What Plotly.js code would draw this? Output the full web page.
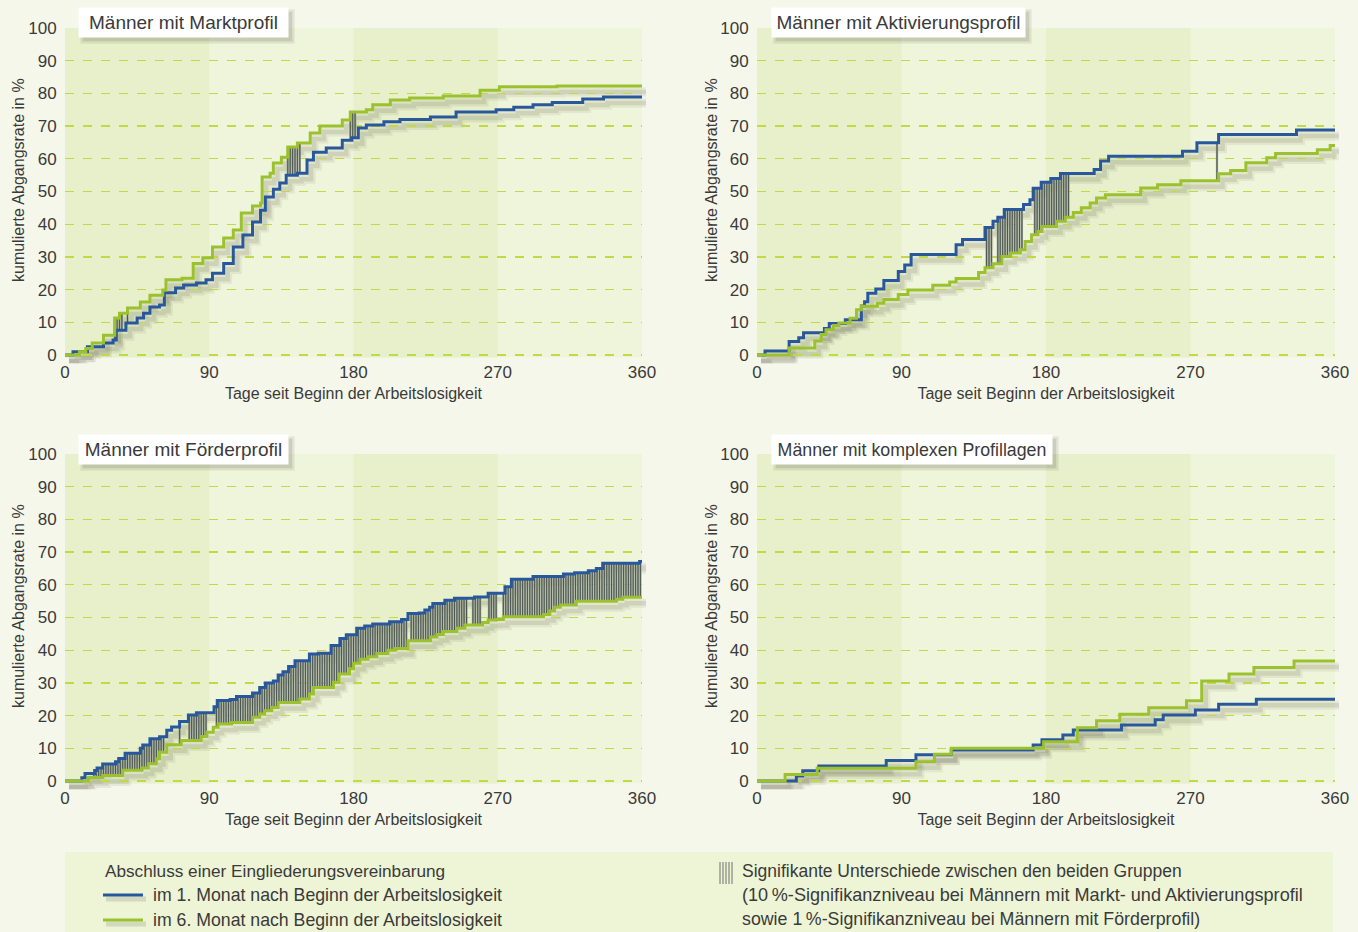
<!DOCTYPE html>
<html>
<head>
<meta charset="utf-8">
<script src="https://cdn.plot.ly/plotly-3.0.1.min.js"></script>
<style>
  html, body { margin: 0; padding: 0; background: #f5f7ea; }
  #chart { width: 1358px; height: 932px; }
</style>
</head>
<body>
<div id="chart"></div>
<script>
// ---------- DATA (day, cumulative rate in %) : step points ----------
const xTicks = [0, 90, 180, 270, 360];
const yTicks = [0, 10, 20, 30, 40, 50, 60, 70, 80, 90, 100];

const panelTitles = ['Männer mit Marktprofil', 'Männer mit Aktivierungsprofil',
                     'Männer mit Förderprofil', 'Männer mit komplexen Profillagen'];

// Marktprofil
const marktBlue = [[0,0],[5,1],[14,2.5],[24,3.7],[30,4.6],[32,7.6],[38,9.8],[45,11.3],[49,12.8],[53,14.7],[59,15.3],[62,19],[69,20.5],[74,21.4],[82,22],[88,23],[92,25],[99,28],[105,33],[111,36.7],[117,40.7],[122,44.3],[125,48.3],[130,50.7],[134,52.6],[138,55],[145,55.6],[151,59.6],[155,62],[163,63.3],[173,65.7],[179,66.4],[183,69.4],[188,70.3],[199,71.3],[209,72],[228,72.8],[244,74.3],[269,75],[280,75.8],[292,76.5],[304,77.2],[323,78.3],[336,78.9],[360,78.9]];
const marktGreen = [[0,0],[9,1],[13,2],[17,3.7],[24,6],[31,11.3],[34,12.8],[39,14.4],[47,16.2],[53,18.3],[61,19.9],[63,23],[73,23.5],[80,28],[86,29.7],[92,33],[99,35.8],[105,38.2],[110,43.4],[117,45.6],[122,46.5],[123,54.4],[128,55.6],[130,58.7],[135,60.5],[139,63.6],[145,64.8],[153,67.9],[159,70],[173,71.9],[178,74.3],[188,75],[192,76.5],[203,78],[215,78.6],[236,79.2],[259,81],[271,82],[307,82.3],[360,82.3]];
const marktSig = [[31,36],[39,40],[139,147],[178,181]];

// Aktivierungsprofil
const aktivBlue = [[0,0],[5,1.2],[20,4.1],[26,5.3],[29,6.8],[42,8.1],[45,9.6],[55,10.8],[65,15],[67,16.3],[69,18.9],[74,20.2],[79,22.8],[88,25.5],[92,27.5],[96,30.7],[124,33.7],[128,35.3],[142,39],[147,40.9],[150,42.1],[154,44.5],[166,46],[170,47.5],[172,51],[177,52.8],[183,54],[189,55.5],[210,56.7],[214,59.3],[219,60.8],[265,62.3],[274,64.9],[287.5,67.4],[336,68.8],[360,68.8]];
const aktivGreen = [[0,0],[20,2.1],[36,4.3],[40,6.3],[43,7.7],[47.5,9],[51,9.8],[58,11.2],[62,13.8],[65,14.9],[75,15.8],[79,17],[88,18.5],[94,19.9],[109.5,21.3],[120,22.3],[124,23.4],[138,25.2],[142,26.7],[147,27.9],[152.5,30.1],[158,31.2],[164,32.2],[167,34.7],[171,36.8],[175,37.8],[177.5,39.3],[186.5,40.9],[192,42.1],[197,43.6],[202,45],[207.5,46.5],[211.5,48],[217,49],[239,51.1],[249.5,52.1],[264,53.3],[287.5,55.4],[295,56.4],[304.5,58.8],[317.5,60.3],[323,61.6],[349,62.8],[357,64.1],[360,64.1]];
const aktivSig = [[143,147],[150,166],[173,194],[286.5,286.5]];

// Förderprofil
const foerderBlue = [[0,0],[10.5,1],[12.5,2.3],[18.5,3.2],[20,4],[23.5,5.2],[31.5,5.9],[33.5,6.9],[37.5,8.5],[47,10],[48.5,11],[53,12.9],[59,13.5],[63.5,15.5],[66.5,16.5],[71.5,18.2],[77,20.2],[82,20.9],[93,22.7],[95,24.6],[103,24.9],[107,25.8],[117,26.9],[121.5,28.6],[125,30],[130,30.6],[133,32.4],[136,33.4],[139.5,35],[143.5,36.8],[152.5,38.8],[158,39.1],[166,41.4],[171.5,43.6],[175.5,44.7],[182,46.7],[187,47.4],[192,48],[202.5,48.7],[210,49.4],[214,51.2],[221,51.4],[224.5,52.3],[227.5,53.1],[229.5,54.3],[237,55.3],[243,55.9],[255.5,56.3],[264,57.4],[274.5,59.4],[278.5,61.7],[292,62.5],[311,63.3],[318,63.7],[326.5,64.3],[331.5,65],[335.5,66.6],[358.5,67.1],[360,67.1]];
const foerderGreen = [[0,0],[14.5,1.1],[23.5,1.7],[36,3.3],[48,4],[52,5.3],[57,6.8],[59,8.8],[63.5,11.1],[72.5,12.4],[85,13.6],[88.5,14.9],[92.5,16.4],[95.5,17.4],[104,17.9],[117,19.5],[121.5,20.5],[124.5,21.5],[129,22.5],[133,24],[146.5,25.1],[152.5,26.6],[155,28.6],[167.5,30.2],[171,32.7],[177.5,34.3],[180,36],[184,37.2],[189,38],[194.5,39],[201.5,40],[206,40.5],[214,42.9],[228,44],[232,44.8],[236,45.7],[244.5,46.7],[249.5,47.7],[260.5,48.5],[264,49.2],[269,49.4],[273.5,50.2],[298.5,50.9],[302.5,52],[305.5,53.1],[309,53.8],[319,55],[344,55.6],[348,56.2],[360,56.2]];
const foerderSig = [[18,62.5],[71.5,72],[77.5,88.5],[94.5,213],[216,250.5],[254.5,260],[264.5,269.5],[273.5,359.5]];

// komplexe Profillagen
const komplexBlue = [[0,0],[24.5,1.5],[28.5,3.1],[38.5,4.6],[80.5,6.3],[99,8],[121,9.5],[172,11],[177.5,12.6],[190.5,14.1],[197,15.6],[227,17.1],[248,18.7],[253,20.2],[273,21.7],[287.5,23.5],[311,25],[360,25]];
const komplexGreen = [[0,0],[17.5,2],[37.5,3.9],[99,5.9],[110.5,8.2],[121,10],[178.5,12],[199.5,16.3],[211.5,18.4],[226,20.4],[244,22.4],[267.5,24.5],[277,30.6],[294,32.7],[309.5,34.7],[334.5,36.7],[360,36.7]];
const komplexSig = [];

const legendHeader = 'Abschluss einer Eingliederungsvereinbarung';
const legendBlue = 'im 1. Monat nach Beginn der Arbeitslosigkeit';
const legendGreen = 'im 6. Monat nach Beginn der Arbeitslosigkeit';
const legendSig = ['Signifikante Unterschiede zwischen den beiden Gruppen',
  '(10\u2009%-Signifikanzniveau bei Männern mit Markt- und Aktivierungsprofil',
  'sowie 1\u2009%-Signifikanzniveau bei Männern mit Förderprofil)'];
const xTitle = 'Tage seit Beginn der Arbeitslosigkeit';
const yTitle = 'kumulierte Abgangsrate in %';

// ---------- STYLE ----------
const FONT = 'Liberation Sans, Arial, sans-serif';
const TXT = '#3a3a3a';
const BLUE = '#28589b';
const GREEN = '#9cc12e';
const HATCH_DARK = '#4b554d';
const HATCH_LIGHT = '#9aa295';
const PLOT_BG = '#eff5da';
const BAND = '#e7efcb';
const W = 1358, H = 932;
const px = v => v / W;
const py = v => 1 - v / H;
const SH_DX = 4, SH_DY = 6;   // shadow offset in px

const panels = [
  {blue: marktBlue, green: marktGreen, sig: marktSig},
  {blue: aktivBlue, green: aktivGreen, sig: aktivSig},
  {blue: foerderBlue, green: foerderGreen, sig: foerderSig},
  {blue: komplexBlue, green: komplexGreen, sig: komplexSig}
];

function valAt(series, d) {
  let v = series[0][1];
  for (const [x, y] of series) { if (x <= d + 1e-9) v = y; else break; }
  return v;
}
const ax = n => (n === 1 ? '' : String(n));

// axes: 1-4 = shadow subplots (drawn first), 5-8 = visible subplots
const data = [];
panels.forEach((p, i) => {
  const s = ax(i + 1);
  [p.blue, p.green].forEach(ser => {
    data.push({x: ser.map(d => d[0]), y: ser.map(d => d[1]), xaxis: 'x' + s, yaxis: 'y' + s,
      mode: 'lines', line: {color: 'rgba(70,70,45,0.08)', width: 9, shape: 'hv'},
      hoverinfo: 'skip', showlegend: false});
    data.push({x: ser.map(d => d[0]), y: ser.map(d => d[1]), xaxis: 'x' + s, yaxis: 'y' + s,
      mode: 'lines', line: {color: 'rgba(70,70,45,0.12)', width: 4.5, shape: 'hv'},
      hoverinfo: 'skip', showlegend: false});
  });
});
panels.forEach((p, i) => {
  const s = ax(i + 5);
  const xa = 'x' + s, ya = 'y' + s;
  if (p.sig.length) {
    const hx = [], hy = [];
    p.sig.forEach(([a, b]) => {
      for (let d = a; d <= b + 1e-9; d += 1.5) {
        hx.push(d, d, null);
        hy.push(valAt(p.blue, d), valAt(p.green, d), null);
      }
    });
    data.push({x: hx, y: hy, xaxis: xa, yaxis: ya, mode: 'lines',
      line: {color: HATCH_LIGHT, width: 2.2}, hoverinfo: 'skip', showlegend: false});
    data.push({x: hx, y: hy, xaxis: xa, yaxis: ya, mode: 'lines',
      line: {color: HATCH_DARK, width: 1}, hoverinfo: 'skip', showlegend: false});
  }
  data.push({x: p.blue.map(d => d[0]), y: p.blue.map(d => d[1]), xaxis: xa, yaxis: ya,
    mode: 'lines', line: {color: BLUE, width: 3, shape: 'hv'}, showlegend: false});
  data.push({x: p.green.map(d => d[0]), y: p.green.map(d => d[1]), xaxis: xa, yaxis: ya,
    mode: 'lines', line: {color: GREEN, width: 3, shape: 'hv'}, showlegend: false});
});

// pixel extents of each plot area
const xPx = [[65, 642], [757, 1335], [65, 642], [757, 1335]];
const yPx = [[28, 357.6], [28, 357.6], [454, 783.6], [454, 783.6]];

const layout = {
  width: W, height: H,
  margin: {l: 0, r: 0, t: 0, b: 0},
  paper_bgcolor: '#f5f7ea',
  plot_bgcolor: 'rgba(0,0,0,0)',
  font: {family: FONT, color: TXT},
  showlegend: false,
  shapes: [], annotations: []
};

for (let i = 0; i < 4; i++) {
  const [xl, xr] = xPx[i], [yt, yb] = yPx[i];
  const sS = ax(i + 1), sM = ax(i + 5);
  layout['xaxis' + sS] = {domain: [px(xl + SH_DX), px(xr + SH_DX)], anchor: 'y' + sS,
    range: [0, 360], visible: false, fixedrange: true};
  layout['yaxis' + sS] = {domain: [py(yb + SH_DY), py(yt + SH_DY)], anchor: 'x' + sS,
    range: [-0.8, 100], visible: false, fixedrange: true};
  layout['xaxis' + sM] = {
    domain: [px(xl), px(xr)], anchor: 'y' + sM, range: [0, 360], tickvals: xTicks,
    showgrid: false, zeroline: false, showline: false, ticks: '', ticklabelstandoff: 2,
    tickfont: {size: 17, color: TXT, family: FONT},
    title: {text: xTitle, font: {size: 16, color: TXT, family: FONT}, standoff: 7},
    fixedrange: true
  };
  layout['yaxis' + sM] = {
    domain: [py(yb), py(yt)], anchor: 'x' + sM, range: [-0.8, 100], tickvals: yTicks,
    showgrid: true, gridcolor: '#c4d844', gridwidth: 1.3, griddash: 'dash',
    zeroline: false, showline: false,
    ticks: 'outside', ticklen: 4, tickcolor: 'rgba(0,0,0,0)',
    tickfont: {size: 17, color: TXT, family: FONT},
    fixedrange: true
  };
  // plot background + darker bands (0-90, 180-270 days), all in the lowest layer
  layout.shapes.push({type: 'rect', xref: 'paper', yref: 'paper',
    x0: px(xl), x1: px(xr), y0: py(yb), y1: py(yt), fillcolor: PLOT_BG, line: {width: 0}, layer: 'below'});
  [[0, 90], [180, 270]].forEach(([a, b]) => {
    layout.shapes.push({type: 'rect', xref: 'x' + sM, yref: 'paper',
      x0: a, x1: b, y0: py(yb), y1: py(yt), fillcolor: BAND, line: {width: 0}, layer: 'below'});
  });
}

// panel titles with box shadows
const titlePos = [[78, 7, 203, 19], [771, 7, 247, 19], [78, 434, 203, 19], [771, 434, 274, 17.8]];
titlePos.forEach(([x, y, w, fs], i) => {
  const bw = w + 6, bh = 29;
  [[3, 'rgba(60,60,40,0.06)'], [1.5, 'rgba(60,60,40,0.08)'], [0, 'rgba(60,60,40,0.10)']].forEach(([g, c]) => {
    layout.shapes.push({type: 'rect', xref: 'paper', yref: 'paper', layer: 'above',
      x0: px(x + 5 - g), x1: px(x + bw + 5 + g), y0: py(y + bh + 5 + g), y1: py(y + 5 - g),
      fillcolor: c, line: {width: 0}});
  });
  layout.annotations.push({xref: 'paper', yref: 'paper', x: px(x), y: py(y),
    xanchor: 'left', yanchor: 'top', showarrow: false, text: panelTitles[i],
    font: {size: fs, color: TXT, family: FONT}, bgcolor: '#ffffff', borderpad: 3,
    width: w, height: 23, align: 'center'});
});

// y axis titles
[[18, 180], [711, 180], [18, 606], [711, 606]].forEach(([x, y]) => {
  layout.annotations.push({xref: 'paper', yref: 'paper', x: px(x), y: py(y),
    xanchor: 'center', yanchor: 'middle', showarrow: false, text: yTitle, textangle: -90,
    font: {size: 16, color: TXT, family: FONT}});
});

// legend box
layout.shapes.push({type: 'rect', xref: 'paper', yref: 'paper', x0: px(65), x1: px(1333),
  y0: 0, y1: py(852), fillcolor: '#eef4d6', line: {width: 0}, layer: 'below'});
layout.shapes.push({type: 'line', xref: 'paper', yref: 'paper', x0: px(106), x1: px(146),
  y0: py(899), y1: py(899), line: {color: 'rgba(80,80,60,0.16)', width: 5}});
layout.shapes.push({type: 'line', xref: 'paper', yref: 'paper', x0: px(106), x1: px(146),
  y0: py(924), y1: py(924), line: {color: 'rgba(80,80,60,0.16)', width: 5}});
layout.shapes.push({type: 'line', xref: 'paper', yref: 'paper', x0: px(103), x1: px(143),
  y0: py(895), y1: py(895), line: {color: BLUE, width: 3}});
layout.shapes.push({type: 'line', xref: 'paper', yref: 'paper', x0: px(103), x1: px(143),
  y0: py(920), y1: py(920), line: {color: GREEN, width: 3}});
[720, 723, 726, 729, 732].forEach(x => {
  layout.shapes.push({type: 'line', xref: 'paper', yref: 'paper', x0: px(x), x1: px(x),
    y0: py(884), y1: py(862), line: {color: '#6a726a', width: 1}});
});
const legTexts = [[103, 871, legendHeader, 17.2], [151, 895, legendBlue, 17.7], [151, 920, legendGreen, 17.7],
  [740, 871, legendSig[0], 17.5], [740, 895, legendSig[1], 18.1], [740, 919, legendSig[2], 17.8]];
legTexts.forEach(([x, y, t, fs]) => {
  layout.annotations.push({xref: 'paper', yref: 'paper', x: px(x), y: py(y),
    xanchor: 'left', yanchor: 'middle', showarrow: false, text: t,
    font: {size: fs, color: TXT, family: FONT}});
});

Plotly.newPlot('chart', data, layout, {displayModeBar: false, staticPlot: true});
</script>
</body>
</html>
